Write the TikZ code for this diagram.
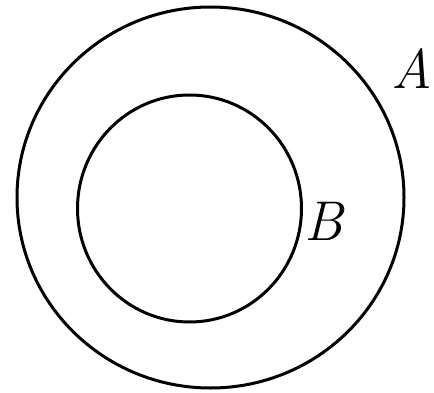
\documentclass[tikz,border=0pt]{standalone}
\begin{document}
\begin{tikzpicture}[x=1pt,y=1pt,
  ring/.style={draw=black,line width=3pt},
  lbl/.style={inner sep=0pt,font=\fontsize{56}{56}\selectfont\itshape}]
\useasboundingbox (0,0) rectangle (434,392);
\fill[white] (0,0) rectangle (434,392);
\draw[ring] (210.5,194.5) ellipse [x radius=193.5,y radius=190.5];
\draw[ring] (189.5,183.5) ellipse [x radius=112,y radius=113.5];
\node[lbl,anchor=base west] (A) at (391,304) {A};
\node[lbl,anchor=base west] (B) at (304,152) {B};
\end{tikzpicture}
\end{document}
